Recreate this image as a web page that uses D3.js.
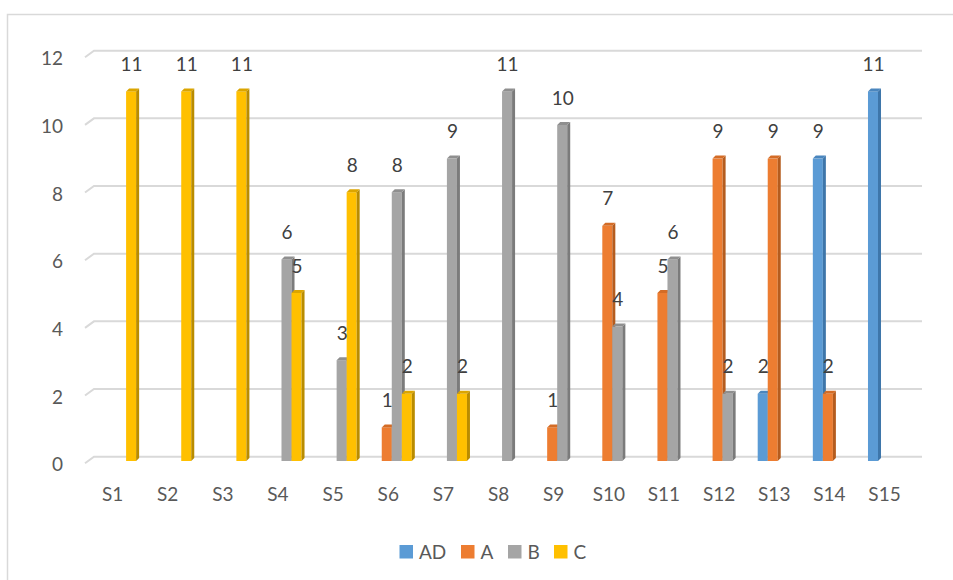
<!DOCTYPE html>
<html><head><meta charset="utf-8">
<script src="https://cdn.jsdelivr.net/npm/d3@7"></script>
<style>
html,body{margin:0;padding:0;background:#fff;}
svg{display:block;font-family:Lato,"Open Sans",sans-serif;}
</style></head>
<body>
<svg id="chart" width="953" height="580"></svg>
<script>
const categories = ["S1","S2","S3","S4","S5","S6","S7","S8","S9","S10","S11","S12","S13","S14","S15"];
const seriesNames = ["AD","A","B","C"];
const valuesAD = [0,0,0,0,0,0,0,0,0,0,0,0,2,9,11];
const valuesA  = [0,0,0,0,0,1,0,0,1,7,5,9,9,2,0];
const valuesB  = [0,0,0,6,3,8,9,11,10,4,6,2,0,0,0];
const valuesC  = [11,11,11,5,8,2,2,0,0,0,0,0,0,0,0];
const yTicks = [0,2,4,6,8,10,12];
const colors = {AD:"#5B9BD5", A:"#ED7D31", B:"#A5A5A5", C:"#FFC000"};
const sideColors = {AD:"#3E76AA", A:"#B55C1E", B:"#7B7B7B", C:"#B98C00"};
const topColors = {AD:"#4A86BE", A:"#D46C26", B:"#8F8F8F", C:"#DBA500"};

const seriesValues = {AD:valuesAD, A:valuesA, B:valuesB, C:valuesC};

const svg = d3.select("#chart");

// outer border
svg.append("rect").attr("x",7.5).attr("y",14.5).attr("width",1000).attr("height",1000)
  .attr("fill","none").attr("stroke","#D9D9D9").attr("stroke-width",1.5);

const y = d3.scaleLinear().domain([0,12]).range([456.7,50.7]);
const yBar = d3.scaleLinear().domain([0,12]).range([461,57.8]);
const x0 = d3.scaleBand().domain(categories).range([88.5,915.6]);
const clusterW = 40.1;
const x1 = d3.scaleBand().domain(seriesNames).range([0,clusterW]);
const off = (x0.bandwidth()-clusterW)/2;
const d = 3;

// gridlines
const grid = svg.append("g");
yTicks.forEach(t=>{
  const gy = y(t);
  grid.append("path")
    .attr("d",`M85,${gy+6.5} L94,${gy} L922,${gy}`)
    .attr("fill","none").attr("stroke","#D9D9D9").attr("stroke-width",2);
  svg.append("text").attr("x",63).attr("y",gy+8).attr("dy","0.35em")
    .attr("text-anchor","end").attr("font-size",19).attr("fill","#595959").text(t);
});

// x labels
svg.append("g").selectAll("text").data(categories).join("text")
  .attr("x",c=>x0(c)+x0.bandwidth()/2-3.5).attr("y",494).attr("dy","0.35em")
  .attr("text-anchor","middle").attr("font-size",19).attr("fill","#595959").text(c=>c);

// bars
const barData = [];
categories.forEach((c,i)=>{
  seriesNames.forEach(s=>{
    const v = seriesValues[s][i];
    if (v>0) barData.push({c,s,v});
  });
});
const bars = svg.append("g");
barData.forEach(b=>{
  const bx = x0(b.c)+off+x1(b.s);
  const w = x1.bandwidth();
  const yt = yBar(b.v), yb = yBar(0);
  const g = bars.append("g");
  g.append("rect").attr("x",bx).attr("y",yt).attr("width",w).attr("height",yb-yt).attr("fill",colors[b.s]);
  g.append("path").attr("d",`M${bx+w},${yt} L${bx+w+d},${yt-d} L${bx+w+d},${yb-d} L${bx+w},${yb} Z`).attr("fill",sideColors[b.s]);
  g.append("path").attr("d",`M${bx},${yt} L${bx+d},${yt-d} L${bx+w+d},${yt-d} L${bx+w},${yt} Z`).attr("fill",topColors[b.s]);
});

// data labels
svg.append("g").selectAll("text").data(barData).join("text")
  .attr("x",b=>x0(b.c)+off+x1(b.s)+x1.bandwidth()/2+0.5)
  .attr("y",b=>yBar(b.v)-27).attr("dy","0.35em")
  .attr("text-anchor","middle").attr("font-size",19).attr("fill","#404040").text(b=>b.v);

// legend
const legendItems = [{s:"AD",x:399.5},{s:"A",x:461},{s:"B",x:508},{s:"C",x:554}];
const lg = svg.append("g");
legendItems.forEach(it=>{
  lg.append("rect").attr("x",it.x).attr("y",545).attr("width",13.5).attr("height",13.5).attr("fill",colors[it.s]);
  lg.append("text").attr("x",it.x+19.5).attr("y",552).attr("dy","0.35em")
    .attr("font-size",19).attr("fill","#595959").text(it.s);
});
</script>
</body></html>
